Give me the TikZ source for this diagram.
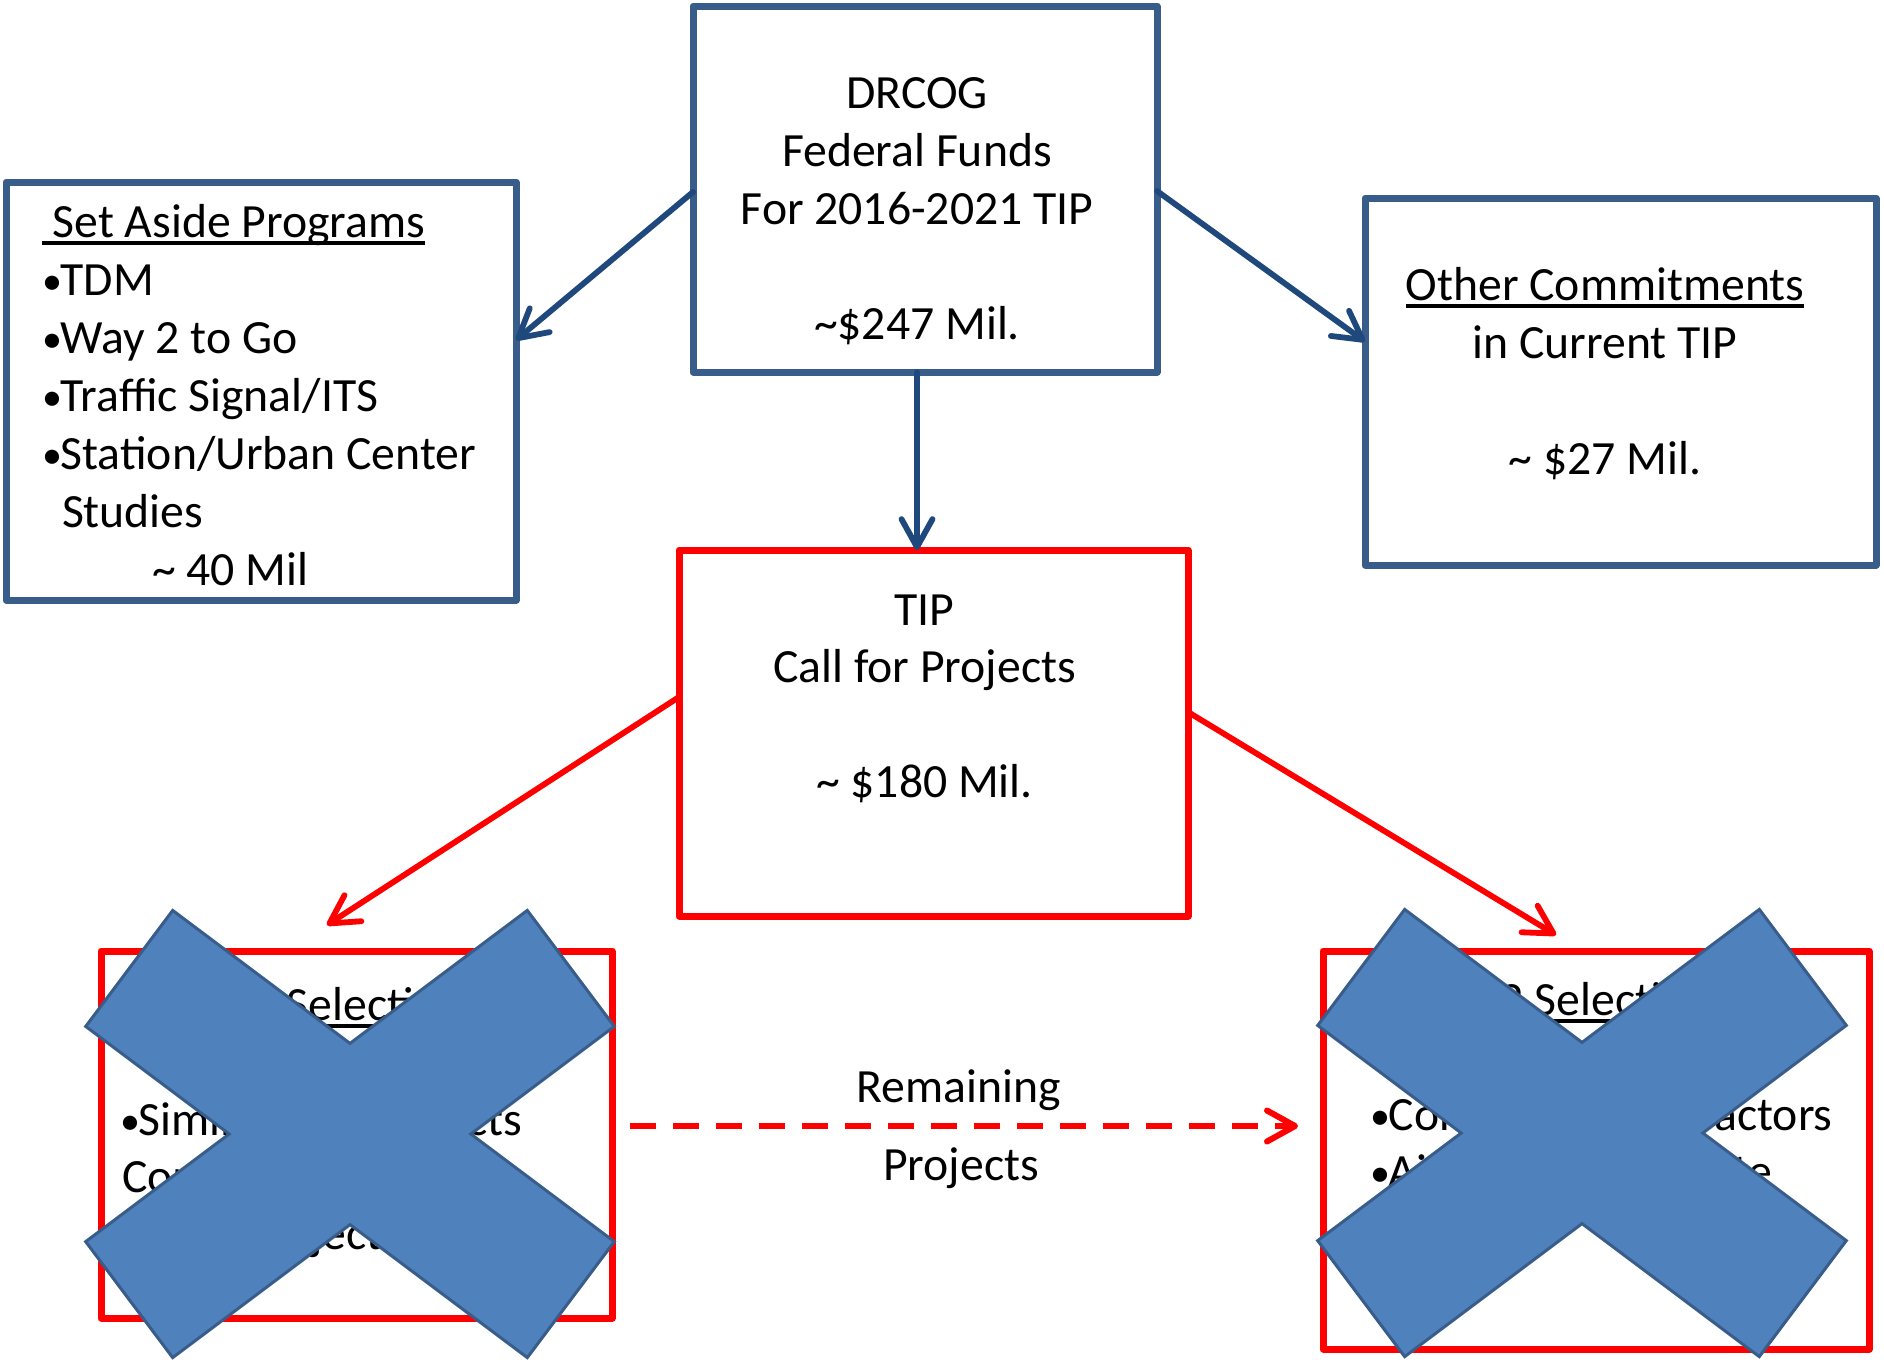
\documentclass[tikz,border=0pt]{standalone}
\usepackage{fontspec}
\setmainfont{Carlito}
\usetikzlibrary{arrows.meta,calc}
\definecolor{boxblue}{HTML}{385D8A}
\definecolor{arrblue}{HTML}{1F497D}
\definecolor{xfill}{HTML}{4F81BD}
\definecolor{xline}{HTML}{385D8A}
\definecolor{redc}{HTML}{FF0000}
\newcommand\ulx[1]{\setbox0\hbox{#1}\rlap{\rule[-0.165em]{\wd0}{0.08em}}\box0}
\newcommand\bul{\makebox[0.39em][l]{\hspace{0.01em}\raisebox{0.015em}{\scalebox{0.84}{•}}}}
\begin{document}
\begin{tikzpicture}[x=0.5pt,y=-0.5pt,
  txt/.style={font=\fontsize{23.85pt}{29pt}\selectfont, inner sep=0pt, outer sep=0pt},
  bluebox/.style={draw=boxblue, line width=3.5pt, line join=round, inner sep=0pt, outer sep=0pt},
  redbox/.style={draw=redc, line width=3.5pt, line join=round, inner sep=0pt, outer sep=0pt},
  bluearrow/.style={draw=arrblue, line width=2.9pt, line cap=round, -{Straight Barb[length=14pt,width=15.5pt,round]}},
  redarrow/.style={draw=redc, line width=2.9pt, line cap=round, -{Straight Barb[length=14pt,width=15.5pt,round]}},
  reddash/.style={draw=redc, line width=3pt, dash pattern=on 13pt off 8.5pt, -{Straight Barb[length=14pt,width=15.5pt,round]}},
  xstyle/.style={fill=xfill, draw=xline, line width=1.5pt, line join=miter}
]
\fill[white] (0,0) rectangle (1884,1362);
\useasboundingbox (0,0) rectangle (1884,1362);

% boxes
\node[bluebox, minimum width=232pt, minimum height=183pt] (drcog) at (925,189) {};
\node[bluebox, minimum width=255pt, minimum height=209pt] (setaside) at (261,391) {};
\node[bluebox, minimum width=255.5pt, minimum height=183.5pt] (other) at (1620.5,381.5) {};
\node[redbox, minimum width=254.5pt, minimum height=183pt] (tipbox) at (933.5,733) {};
\node[redbox, minimum width=255.5pt, minimum height=183.5pt] (bl) at (356.5,1134.5) {};
\node[redbox, minimum width=273pt, minimum height=199pt] (br) at (1596,1150) {};

% DRCOG text
\node[txt, anchor=base] (d1) at (917,108) {DRCOG};
\node[txt, anchor=base] (d2) at (917,166) {Federal Funds};
\node[txt, anchor=base] (d3) at (917,224) {For 2016-2021 TIP};
\node[txt, anchor=base] (d4) at (917,339) {\textasciitilde\$247 Mil.};

% Set aside text
\node[txt, anchor=base west] (s0) at (42,237) {\ulx{~Set Aside Programs}};
\node[txt, anchor=base west] (s1) at (42,295) {\bul TDM};
\node[txt, anchor=base west] (s2) at (42,353) {\bul Way 2 to Go};
\node[txt, anchor=base west] (s3) at (42,411) {\bul Traffic Signal/ITS};
\node[txt, anchor=base west] (s4) at (42,469) {\bul Station/Urban Center};
\node[txt, anchor=base west] (s5) at (62,527) {Studies};
\node[txt, anchor=base west] (s6) at (152,585) {\textasciitilde{} 40 Mil};

% Other commitments text
\node[txt, anchor=base] (o1) at (1605,300) {\ulx{Other Commitments}};
\node[txt, anchor=base] (o2) at (1605,358) {in Current TIP};
\node[txt, anchor=base] (o3) at (1605,474) {\textasciitilde{} \$27 Mil.};

% TIP text
\node[txt, anchor=base] (t1) at (924.5,625) {TIP};
\node[txt, anchor=base] (t2) at (924.5,682) {Call for Projects};
\node[txt, anchor=base] (t3) at (924.5,797) {\textasciitilde{} \$180 Mil.};

% bottom left text
\node[txt, anchor=base west] (l0) at (126,1020) {\ulx{Phase 1 Selection}};
\node[txt, anchor=base west] (l1) at (120,1135) {\bul Similar Size Projects};
\node[txt, anchor=base west] (l2) at (122,1192) {Compete Against};
\node[txt, anchor=base west] (l3) at (122,1249) {Other Projects};

% bottom right text
\node[txt, anchor=base west] (r0) at (1374,1015) {\ulx{Phase 2 Selection}};
\node[txt, anchor=base west] (r1) at (1370,1130) {\bul Consider Other Factors};
\node[txt, anchor=base west] (r2) at (1370,1187) {\bul Air Quality Estimate};

% dashed label
\node[txt, anchor=base] (rem) at (959,1102) {Remaining};
\node[txt, anchor=base] (proj) at (961,1180) {Projects};

% arrows
\draw[bluearrow] ([yshift=-1.5pt]drcog.west) -- ([yshift=25.5pt]setaside.east);
\draw[bluearrow] ([yshift=-1pt]drcog.east) -- ([yshift=20pt]other.west);
\draw[bluearrow] ([xshift=-4pt]drcog.south) -- ([xshift=-4pt]drcog.south |- tipbox.north);
\draw[redarrow] ([yshift=18pt]tipbox.west) -- ([shift={(-14.75pt,13pt)}]bl.north);
\draw[redarrow] ([yshift=10.5pt]tipbox.east) -- ([shift={(-20pt,8pt)}]br.north);
\draw[reddash] ([shift={(9pt,4.25pt)}]bl.east) -- ([shift={(-12.5pt,12pt)}]br.west);

% X marks
\foreach \cx/\cy in {350/1134, 1582/1133}{
  \draw[xstyle, shift={(\cx,\cy)}] (-177.3,-223.6) -- (0,-90.6) -- (177.3,-223.6) -- (264.3,-107.6) -- (120.8,0) -- (264.3,107.6) -- (177.3,223.6) -- (0,90.6) -- (-177.3,223.6) -- (-264.3,107.6) -- (-120.8,0) -- (-264.3,-107.6) -- cycle;
}
\end{tikzpicture}
\end{document}
